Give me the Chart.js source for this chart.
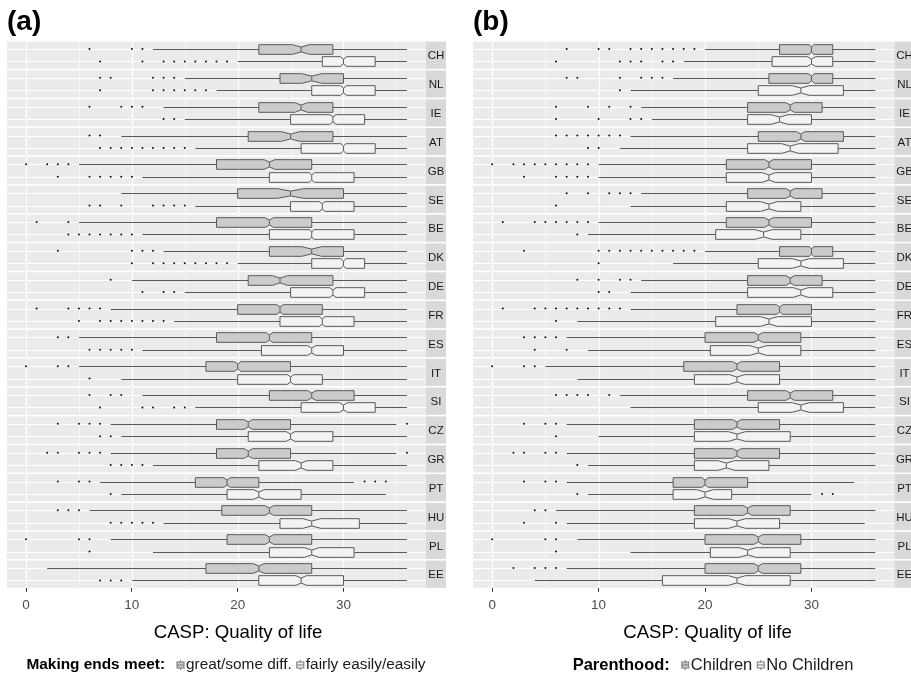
<!DOCTYPE html>
<html>
<head>
<meta charset="utf-8">
<script src="https://cdn.jsdelivr.net/npm/chart.js@4.4.0/dist/chart.umd.min.js"></script>
<style>
  html, body { margin: 0; padding: 0; background: #fff; }
  .panel { position: absolute; top: 0; height: 680px; }
</style>
</head>
<body>
<div class="panel" style="left:0;width:455px"><canvas id="chartA" width="455" height="680"></canvas></div>
<div class="panel" style="left:455px;width:456px"><canvas id="chartB" width="456" height="680"></canvas></div>
<script>
// ======================= DATA =======================
const countries = ["CH", "NL", "IE", "AT", "GB", "SE", "BE", "DK", "DE", "FR",
  "ES", "IT", "SI", "CZ", "GR", "PT", "HU", "PL", "EE"];
const xTicks = [0, 10, 20, 30];
const xMinorTicks = [5, 15, 25, 35];

// [lower whisker, Q1, median, Q3, upper whisker]
const endsHard = [
  [12, 22, 26, 29, 36], [15, 24, 27, 30, 36], [13, 22, 26, 29, 36], [9, 21, 25, 29, 36],
  [5, 18, 23, 27, 36], [9, 20, 25, 30, 36], [5, 18, 23, 27, 36], [13, 23, 27, 30, 36],
  [10, 21, 24, 29, 36], [8, 20, 24, 28, 36], [5, 18, 23, 27, 36], [5, 17, 20, 25, 36],
  [11, 23, 27, 31, 36], [8, 18, 21, 25, 35], [8, 18, 21, 25, 35], [7, 16, 19, 22, 31],
  [6, 18.5, 23, 27, 36], [8, 19, 23, 27, 36], [2, 17, 22, 27, 36],
];
const endsHardNotch = [0.8, 0.95, 0.6, 0.85, 0.5, 1.25, 0.4, 0.95, 0.7, 0.3,
  0.3, 0.3, 0.4, 0.4, 0.4, 0.3, 0.4, 0.4, 0.5];
const endsHardOut = [
  [6, 10, 11], [7, 8, 12, 13, 14], [6, 9, 10, 11], [6, 7], [0, 2, 3, 4], [], [1, 4],
  [3, 10, 11, 12], [8], [1, 4, 5, 6, 7], [3, 4], [0, 3, 4], [6, 8, 9], [3, 5, 6, 7, 36],
  [2, 3, 5, 6, 7, 36], [3, 5, 6, 32, 33, 34], [3, 4, 5], [0, 5, 6], [],
];

const endsEasy = [
  [20, 28, 30, 33, 36], [18, 27, 30, 33, 36], [15, 25, 29, 32, 36], [16, 26, 30, 33, 36],
  [11, 23, 27, 31, 36], [16, 25, 28, 31, 36], [11, 23, 27, 31, 36], [20, 27, 30, 32, 36],
  [15, 25, 29, 32, 36], [14, 24, 28, 31, 36], [11, 22.25, 27, 30, 36], [9, 20, 25, 28, 36],
  [16, 26, 30, 33, 36], [9, 21, 25, 29, 36], [12, 22, 26, 29, 36], [9, 19, 22, 26, 34],
  [13, 24, 27, 31.5, 36], [12, 23, 27, 31, 36], [10, 22, 26, 30, 36],
];
const endsEasyNotch = [0.3, 0.3, 0.3, 0.25, 0.25, 0.25, 0.2, 0.25, 0.3, 0.25,
  0.4, 0.3, 0.4, 0.4, 0.55, 0.5, 0.85, 0.7, 0.5];
const endsEasyOut = [
  [7, 11, 13, 14, 15, 16, 17, 18, 19], [7, 12, 13, 14, 15, 16, 17], [13, 14],
  [7, 8, 9, 10, 11, 12, 13, 14, 15], [3, 6, 7, 8, 9, 10], [6, 7, 9, 12, 13, 14, 15],
  [4, 5, 6, 7, 8, 9, 10], [10, 12, 13, 14, 15, 16, 17, 18, 19], [11, 13, 14],
  [5, 7, 8, 9, 10, 11, 12, 13], [6, 7, 8, 9, 10], [6], [7, 11, 12, 14, 15], [7, 8],
  [8, 9, 10, 11], [8], [8, 9, 10, 11, 12], [6], [7, 8, 9],
];

const children = [
  [20, 27, 30, 32, 36], [17, 26, 30, 32, 36], [14, 24, 28, 31, 36], [13, 25, 29, 33, 36],
  [10, 22, 26, 30, 36], [14, 24, 28, 31, 36], [10, 22, 26, 30, 36], [20, 27, 30, 32, 36],
  [14, 24, 28, 31, 36], [13, 23, 27, 30, 36], [7, 20, 25, 29, 36], [5, 18, 23, 27, 36],
  [12, 24, 28, 32, 36], [7, 19, 23, 27, 36], [7, 19, 23, 27, 36], [7, 17, 20, 24, 34],
  [6, 19, 24, 28, 36], [8, 20, 25, 29, 36], [7, 20, 25, 29, 36],
];
const childrenNotch = [0.2, 0.3, 0.4, 0.4, 0.4, 0.4, 0.4, 0.2, 0.4, 0.3,
  0.4, 0.4, 0.4, 0.4, 0.4, 0.3, 0.4, 0.4, 0.4];
const childrenOut = [
  [7, 10, 11, 13, 14, 15, 16, 17, 18, 19], [7, 8, 12, 14, 15, 16], [6, 9, 11, 13],
  [6, 7, 8, 9, 10, 11, 12], [0, 2, 3, 4, 5, 6, 7, 8, 9], [7, 9, 11, 12, 13],
  [1, 4, 5, 6, 7, 8, 9], [3, 10, 11, 12, 13, 14, 15, 16, 17, 18, 19], [8, 10, 12, 13],
  [1, 4, 5, 6, 7, 8, 9, 10, 11, 12], [3, 4, 5, 6], [0, 3, 4], [6, 7, 8, 9, 11], [3, 5, 6],
  [2, 3, 5, 6], [3, 5, 6], [4, 5], [0, 5, 6], [2, 4, 5, 6],
];

const noChildren = [
  [18, 26.3, 30, 32, 36], [13, 25, 29, 33, 36], [15, 24, 27, 30, 36], [12, 24, 28, 32.5, 36],
  [10, 22, 26, 30, 36], [13, 22, 26, 29, 36], [9, 21, 25.5, 29, 36], [17, 25, 29, 33, 36],
  [13, 24, 29, 32, 36], [8, 21, 26, 30, 36], [9, 20.5, 25, 29, 36], [8, 19, 23, 27, 36],
  [13, 25, 29, 33, 36], [10, 19, 23, 28, 36], [9, 19, 22, 26, 36], [9, 17, 20, 22.5, 30],
  [7, 19, 23, 27, 35], [13, 20.5, 24, 28, 36], [4, 16, 23, 28, 36],
];
const noChildrenNotch = [0.4, 0.8, 0.8, 0.8, 0.6, 0.8, 0.8, 0.8, 0.7, 0.8,
  0.8, 0.7, 0.8, 0.8, 0.8, 0.8, 0.8, 0.8, 0.8];
const noChildrenOut = [
  [6, 12, 13, 14, 16, 17], [12], [6, 10, 13, 14], [9, 10], [3, 6, 7, 8, 9], [6], [8], [10],
  [10, 11], [6], [4, 7], [], [], [6], [8], [8, 31, 32], [3, 6], [6], [],
];

// ======================= LAYOUT =======================
const FACET = 2.2;      // one facet = two categories + 0.6 expansion each side
const GAP = 0.132;      // white gap between facets
const BOX_HALF = 0.39;
const STRIP = 20;
const Y_MAX = countries.length * FACET + (countries.length - 1) * GAP;
const FONT = "'Liberation Sans', Arial, sans-serif";

const facetStart = (k) => k * (FACET + GAP);
const rowPos = (k, j) => facetStart(k) + 0.6 + j;

function outlierPoints(out, j) {
  const pts = [];
  out.forEach((vals, k) => vals.forEach((v) => pts.push({ x: v, y: rowPos(k, j) })));
  return pts;
}

function strokeLine(ctx, x1, y1, x2, y2) {
  ctx.beginPath();
  ctx.moveTo(x1, y1);
  ctx.lineTo(x2, y2);
  ctx.stroke();
}

function drawBox(ctx, x, y, s, n, pos, fill) {
  const yc = Math.round(y.getPixelForValue(pos)) + 0.5;
  const hh = Math.abs(y.getPixelForValue(pos + BOX_HALF) - y.getPixelForValue(pos));
  const [lo, q1, med, q3, hi] = s.map((v) => x.getPixelForValue(v));
  const nl = x.getPixelForValue(s[2] - n);
  const nr = x.getPixelForValue(s[2] + n);
  ctx.strokeStyle = "#5a5a5a";
  ctx.lineWidth = 1;
  strokeLine(ctx, lo, yc, q1, yc);
  strokeLine(ctx, q3, yc, hi, yc);
  ctx.beginPath();
  ctx.moveTo(q1, yc - hh);
  ctx.lineTo(nl, yc - hh);
  ctx.lineTo(med, yc - hh / 2);
  ctx.lineTo(nr, yc - hh);
  ctx.lineTo(q3, yc - hh);
  ctx.lineTo(q3, yc + hh);
  ctx.lineTo(nr, yc + hh);
  ctx.lineTo(med, yc + hh / 2);
  ctx.lineTo(nl, yc + hh);
  ctx.lineTo(q1, yc + hh);
  ctx.closePath();
  ctx.fillStyle = fill;
  ctx.fill();
  ctx.stroke();
  strokeLine(ctx, med, yc - hh / 2, med, yc + hh / 2);
}

function legendKey(ctx, cx, cy, fill) {
  ctx.strokeStyle = "#777";
  ctx.lineWidth = 1;
  strokeLine(ctx, cx, cy - 5, cx, cy + 5);
  ctx.fillStyle = fill;
  ctx.fillRect(cx - 3.5, cy - 3, 7, 6);
  ctx.strokeRect(cx - 3.5, cy - 3, 7, 6);
  strokeLine(ctx, cx - 3.5, cy, cx + 3.5, cy);
}

const facetPlugin = {
  id: "facets",
  beforeDatasetsDraw(chart, args, opts) {
    const { ctx, chartArea: a, scales: { x, y } } = chart;
    ctx.save();
    countries.forEach((c, k) => {
      const top = y.getPixelForValue(facetStart(k));
      const bot = y.getPixelForValue(facetStart(k) + FACET);
      ctx.fillStyle = "#ebebeb";
      ctx.fillRect(a.left, top, a.right - a.left, bot - top);
      ctx.strokeStyle = "#f6f6f6";
      ctx.lineWidth = 1;
      xMinorTicks.forEach((v) => {
        const px = Math.round(x.getPixelForValue(v)) + 0.5;
        strokeLine(ctx, px, top, px, bot);
      });
      ctx.strokeStyle = "#ffffff";
      ctx.lineWidth = 1.2;
      xTicks.forEach((v) => {
        const px = Math.round(x.getPixelForValue(v)) + 0.5;
        strokeLine(ctx, px, top, px, bot);
      });
      [0, 1].forEach((j) => {
        const py = Math.round(y.getPixelForValue(rowPos(k, j))) + 0.5;
        strokeLine(ctx, a.left, py, a.right, py);
      });
      ctx.fillStyle = "#d9d9d9";
      ctx.fillRect(a.right, top, STRIP, bot - top);
      ctx.fillStyle = "#1a1a1a";
      ctx.font = "11.5px " + FONT;
      ctx.textAlign = "center";
      ctx.textBaseline = "middle";
      ctx.fillText(c, a.right + STRIP / 2, (top + bot) / 2 + 1);
    });
    opts.groups.forEach((g, j) => {
      g.stats.forEach((s, k) => drawBox(ctx, x, y, s, g.notch[k], rowPos(k, j), g.fill));
    });
    ctx.restore();
  },
  afterDraw(chart, args, opts) {
    const { ctx } = chart;
    ctx.save();
    ctx.fillStyle = "#000";
    ctx.textAlign = "center";
    ctx.textBaseline = "middle";
    ctx.font = "18.6px " + FONT;
    ctx.fillText(opts.axisTitle, opts.axisTitleX, 633);

    // legend
    const ly = 665;
    const fs = opts.legendSize + "px ";
    ctx.textAlign = "left";
    ctx.font = "bold " + fs + FONT;
    const titleW = ctx.measureText(opts.legendTitle).width;
    ctx.font = fs + FONT;
    const labelW = opts.groups.map((g) => ctx.measureText(g.label).width);
    const total = titleW + 11 + labelW.reduce((s, w) => s + w + 14, 0) - 4;
    let lx = opts.legendX - total / 2;
    ctx.font = "bold " + fs + FONT;
    ctx.fillStyle = "#000";
    ctx.fillText(opts.legendTitle, lx, ly);
    lx += titleW + 11;
    opts.groups.forEach((g, j) => {
      legendKey(ctx, lx + 4.5, ly, g.fill);
      lx += 10;
      ctx.font = fs + FONT;
      ctx.fillStyle = "#1a1a1a";
      ctx.fillText(g.label, lx, ly);
      lx += labelW[j] + 4;
    });
    ctx.restore();
  },
};

function makePanel(id, title, padLeft, padRight, groups, legendTitle, legendX, legendSize, axisTitleX) {
  return new Chart(document.getElementById(id), {
    type: "scatter",
    data: {
      datasets: groups.map((g, j) => ({
        label: g.label,
        data: outlierPoints(g.out, j),
        pointRadius: 1,
        pointBorderWidth: 0,
        pointBackgroundColor: "#111",
      })),
    },
    options: {
      responsive: false,
      animation: false,
      devicePixelRatio: 1,
      layout: { padding: { left: padLeft, right: padRight, top: 0, bottom: 62 } },
      scales: {
        x: {
          type: "linear",
          min: -1.8,
          max: 37.8,
          afterBuildTicks: (s) => { s.ticks = xTicks.map((v) => ({ value: v })); },
          grid: { drawOnChartArea: false, drawTicks: true, tickLength: 4, color: "#333" },
          border: { display: false },
          ticks: { color: "#4d4d4d", font: { size: 13.5, family: FONT }, padding: 5, maxRotation: 0 },
        },
        y: { type: "linear", reverse: true, min: 0, max: Y_MAX, display: false },
      },
      plugins: {
        legend: { display: false },
        tooltip: { enabled: false },
        title: {
          display: true,
          text: title,
          align: "start",
          color: "#000",
          font: { size: 28, weight: "bold", family: FONT },
          padding: { top: 5, bottom: 3 },
        },
        facets: { groups, legendTitle, legendX, legendSize, axisTitle: "CASP: Quality of life", axisTitleX },
      },
    },
    plugins: [facetPlugin],
  });
}

makePanel("chartA", "(a)", 7, 29, [
  { label: "great/some diff.", stats: endsHard, notch: endsHardNotch, out: endsHardOut, fill: "#cbcbcb" },
  { label: "fairly easily/easily", stats: endsEasy, notch: endsEasyNotch, out: endsEasyOut, fill: "#f3f3f3" },
], "Making ends meet:", 226, 15.4, 238);

makePanel("chartB", "(b)", 18, 16.5, [
  { label: "Children", stats: children, notch: childrenNotch, out: childrenOut, fill: "#cbcbcb" },
  { label: "No Children", stats: noChildren, notch: noChildrenNotch, out: noChildrenOut, fill: "#f3f3f3" },
], "Parenthood:", 713 - 455, 16.5, 707.5 - 455);
</script>
</body>
</html>
